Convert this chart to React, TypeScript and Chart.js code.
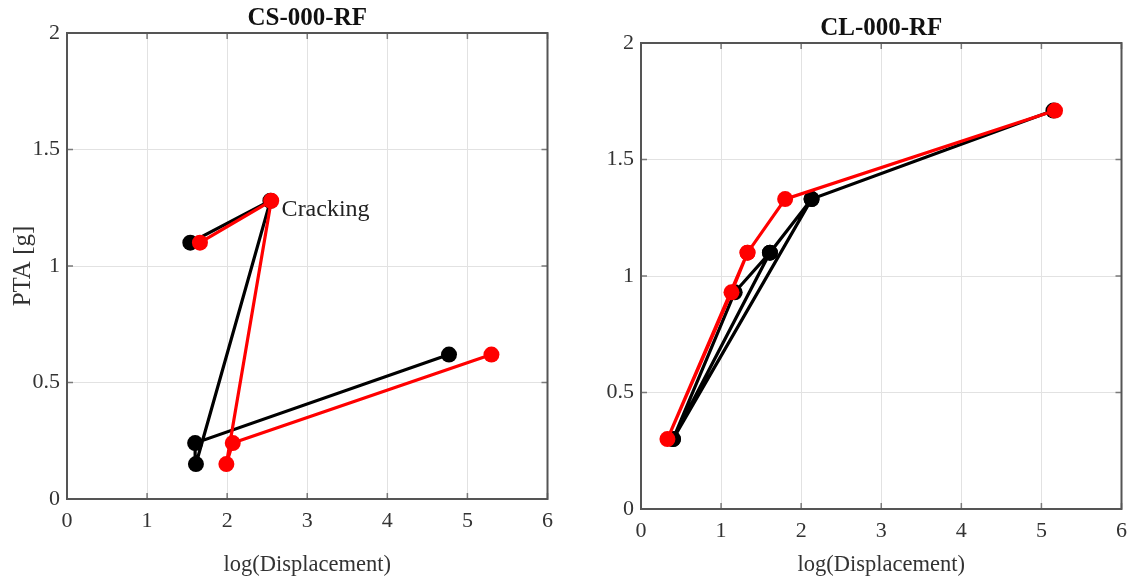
import React, { useEffect, useRef } from "react";
import { Chart, registerables } from "chart.js";

Chart.register(...registerables);

// ---- data ----
const X_TICKS = [0, 1, 2, 3, 4, 5, 6];
const Y_TICKS = [0, 0.5, 1, 1.5, 2];

// CS-000-RF (left panel), points in plotting order
const csBlackX = [1.54, 2.54, 1.61, 1.6, 4.77];
const csBlackY = [1.1, 1.28, 0.15, 0.24, 0.62];
const csRedX = [1.66, 2.55, 1.99, 2.07, 5.3];
const csRedY = [1.1, 1.28, 0.15, 0.24, 0.62];

// CL-000-RF (right panel), points in plotting order
const clBlackX = [2.13, 0.4, 1.17, 1.61, 0.4, 1.61, 2.13, 5.15];
const clBlackY = [1.33, 0.3, 0.93, 1.1, 0.3, 1.1, 1.33, 1.71];
const clRedX = [1.33, 1.13, 0.33, 1.33, 1.8, 5.17];
const clRedY = [1.1, 0.93, 0.3, 1.1, 1.33, 1.71];

const LEFT_TITLE = "CS-000-RF";
const RIGHT_TITLE = "CL-000-RF";
const X_LABEL = "log(Displacement)";
const Y_LABEL = "PTA [g]";
const NOTE_TEXT = "Cracking";
const NOTE_X = 2.68;
const NOTE_Y = 1.24;

const FONT = "'Liberation Serif', 'Times New Roman', serif";

function pts(xs: number[], ys: number[]) {
  return xs.map((x, i) => ({ x, y: ys[i] }));
}

type PanelProps = {
  width: number;
  height: number;
  title: string;
  titleOffset: number;
  blackX: number[];
  blackY: number[];
  redX: number[];
  redY: number[];
  yTitle?: string;
  yWidth: number;
  xHeight: number;
  padTop: number;
  padRight: number;
  note?: { text: string; x: number; y: number };
};

function Panel(p: PanelProps) {
  const ref = useRef<HTMLCanvasElement | null>(null);
  useEffect(() => {
    const canvas = ref.current;
    if (!canvas) return;

    const framePlugin = {
      id: "frame",
      beforeDatasetsDraw(chart: any) {
        const { ctx, chartArea: a, scales } = chart;
        ctx.save();
        ctx.strokeStyle = "#7a7a7a";
        ctx.lineWidth = 1.5;
        ctx.beginPath();
        const tl = 6;
        for (const v of X_TICKS) {
          const px = scales.x.getPixelForValue(v);
          ctx.moveTo(px, a.bottom);
          ctx.lineTo(px, a.bottom - tl);
          ctx.moveTo(px, a.top);
          ctx.lineTo(px, a.top + tl);
        }
        for (const v of Y_TICKS) {
          const py = scales.y.getPixelForValue(v);
          ctx.moveTo(a.left, py);
          ctx.lineTo(a.left + tl, py);
          ctx.moveTo(a.right, py);
          ctx.lineTo(a.right - tl, py);
        }
        ctx.stroke();
        ctx.strokeStyle = "#555555";
        ctx.lineWidth = 2;
        ctx.strokeRect(a.left, a.top, a.right - a.left, a.bottom - a.top);
        ctx.restore();
      },
      afterDatasetsDraw(chart: any) {
        const { ctx, chartArea: a, scales } = chart;
        ctx.save();
        ctx.fillStyle = "#111";
        ctx.font = `bold 25px ${FONT}`;
        ctx.textAlign = "center";
        ctx.textBaseline = "middle";
        ctx.fillText(p.title, (a.left + a.right) / 2, a.top - p.titleOffset);
        if (p.note) {
          ctx.font = `24px ${FONT}`;
          ctx.textAlign = "left";
          ctx.fillStyle = "#222";
          ctx.fillText(
            p.note.text,
            scales.x.getPixelForValue(p.note.x),
            scales.y.getPixelForValue(p.note.y)
          );
        }
        ctx.restore();
      },
    };

    const chart = new Chart(canvas, {
      type: "scatter",
      data: {
        datasets: [
          {
            data: pts(p.redX, p.redY),
            showLine: true,
            borderColor: "#ff0000",
            backgroundColor: "#ff0000",
            borderWidth: 3.2,
            pointRadius: 8,
            pointBorderWidth: 0,
            pointHoverRadius: 8,
            order: 0,
          },
          {
            data: pts(p.blackX, p.blackY),
            showLine: true,
            borderColor: "#000000",
            backgroundColor: "#000000",
            borderWidth: 3.2,
            pointRadius: 8,
            pointBorderWidth: 0,
            pointHoverRadius: 8,
            order: 1,
          },
        ],
      },
      options: {
        responsive: false,
        animation: false,
        events: [],
        layout: { padding: { left: 0, right: p.padRight, top: p.padTop, bottom: 0 } },
        plugins: { legend: { display: false }, tooltip: { enabled: false }, title: { display: false } },
        scales: {
          x: {
            type: "linear",
            min: 0,
            max: 6,
            afterBuildTicks: (s: any) => {
              s.ticks = X_TICKS.map((v) => ({ value: v }));
            },
            afterFit: (s: any) => {
              s.height = p.xHeight;
            },
            ticks: {
              padding: 9,
              color: "#333",
              font: { family: FONT, size: 22 },
              callback: (v: any) => String(v),
              maxRotation: 0,
            },
            grid: { color: "#e2e2e2", lineWidth: 1, drawTicks: false },
            border: { display: false },
            title: {
              display: true,
              text: X_LABEL,
              color: "#333",
              font: { family: FONT, size: 22.5 },
              padding: { top: 0, bottom: 3 },
            },
          },
          y: {
            type: "linear",
            min: 0,
            max: 2,
            afterBuildTicks: (s: any) => {
              s.ticks = Y_TICKS.map((v) => ({ value: v }));
            },
            afterFit: (s: any) => {
              s.width = p.yWidth;
            },
            ticks: {
              padding: 7,
              color: "#333",
              font: { family: FONT, size: 22 },
              callback: (v: any) => String(v),
            },
            grid: { color: "#e2e2e2", lineWidth: 1, drawTicks: false },
            border: { display: false },
            title: {
              display: !!p.yTitle,
              text: p.yTitle || "",
              color: "#333",
              font: { family: FONT, size: 25 },
              padding: { top: 8, bottom: 0 },
            },
          },
        },
      },
      plugins: [framePlugin],
    } as any);
    return () => chart.destroy();
  }, []);
  return <canvas ref={ref} width={p.width} height={p.height} style={{ display: "block" }} />;
}

export default function App() {
  return (
    <div
      style={{
        position: "fixed",
        left: 0,
        top: 0,
        width: 1128,
        height: 582,
        background: "#ffffff",
        overflow: "hidden",
      }}
    >
      <div style={{ position: "absolute", left: 0, top: 0 }}>
        <Panel
          width={562}
          height={582}
          title={LEFT_TITLE}
          titleOffset={14}
          blackX={csBlackX}
          blackY={csBlackY}
          redX={csRedX}
          redY={csRedY}
          yTitle={Y_LABEL}
          yWidth={67}
          xHeight={83}
          padTop={33}
          padRight={0}
          note={{ text: NOTE_TEXT, x: NOTE_X, y: NOTE_Y }}
        />
      </div>
      <div style={{ position: "absolute", left: 560, top: 0 }}>
        <Panel
          width={576}
          height={582}
          title={RIGHT_TITLE}
          titleOffset={14}
          blackX={clBlackX}
          blackY={clBlackY}
          redX={clRedX}
          redY={clRedY}
          yWidth={81}
          xHeight={73}
          padTop={43}
          padRight={0}
        />
      </div>
    </div>
  );
}
